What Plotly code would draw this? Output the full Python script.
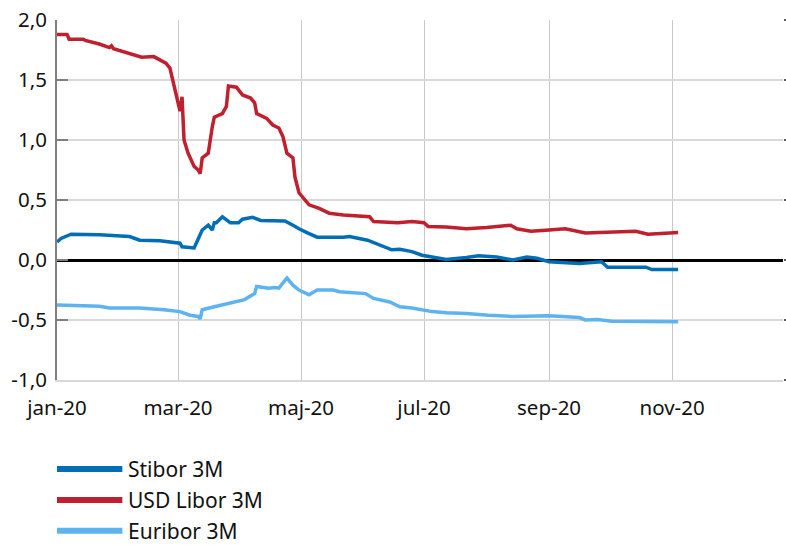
import plotly.graph_objects as go

# ---- data ----
series_names = ["Stibor 3M", "USD Libor 3M", "Euribor 3M"]

libor_dates = ["2020-01-01", "2020-01-06", "2020-01-07", "2020-01-14", "2020-01-15", "2020-01-22",
               "2020-01-27", "2020-01-28", "2020-01-29", "2020-02-01", "2020-02-07", "2020-02-12",
               "2020-02-18", "2020-02-24", "2020-02-26", "2020-02-28", "2020-03-02", "2020-03-03",
               "2020-03-04", "2020-03-06", "2020-03-09", "2020-03-11", "2020-03-12", "2020-03-13",
               "2020-03-16", "2020-03-18", "2020-03-19", "2020-03-23", "2020-03-25", "2020-03-26",
               "2020-03-30", "2020-04-02", "2020-04-06", "2020-04-08", "2020-04-09", "2020-04-14",
               "2020-04-17", "2020-04-20", "2020-04-22", "2020-04-24", "2020-04-27", "2020-04-28",
               "2020-04-30", "2020-05-05", "2020-05-10", "2020-05-15", "2020-05-22", "2020-06-04",
               "2020-06-06", "2020-06-18", "2020-06-25", "2020-07-01", "2020-07-03", "2020-07-12",
               "2020-07-22", "2020-08-01", "2020-08-13", "2020-08-16", "2020-08-23", "2020-09-01",
               "2020-09-09", "2020-09-19", "2020-10-02", "2020-10-14", "2020-10-20", "2020-10-28",
               "2020-11-04"]
libor_values = [1.88, 1.88, 1.84, 1.84, 1.83, 1.80,
                1.77, 1.785, 1.76, 1.745, 1.72, 1.69,
                1.695, 1.64, 1.60, 1.46, 1.24, 1.36,
                1.00, 0.89, 0.78, 0.75, 0.72, 0.85,
                0.89, 1.11, 1.19, 1.22, 1.28, 1.45,
                1.44, 1.375, 1.35, 1.31, 1.22, 1.18,
                1.125, 1.10, 1.03, 0.89, 0.85, 0.69,
                0.56, 0.46, 0.43, 0.39, 0.375, 0.36,
                0.32, 0.31, 0.32, 0.31, 0.28, 0.275,
                0.26, 0.27, 0.29, 0.26, 0.24, 0.25,
                0.26, 0.225, 0.23, 0.24, 0.215, 0.22,
                0.23]

stibor_dates = ["2020-01-01", "2020-01-03", "2020-01-08", "2020-01-22", "2020-02-06", "2020-02-11",
                "2020-02-21", "2020-03-02", "2020-03-03", "2020-03-09", "2020-03-13", "2020-03-16",
                "2020-03-18", "2020-03-19", "2020-03-20", "2020-03-23", "2020-03-27", "2020-03-31",
                "2020-04-02", "2020-04-07", "2020-04-11", "2020-04-19", "2020-04-23", "2020-04-27",
                "2020-04-30", "2020-05-05", "2020-05-09", "2020-05-22", "2020-05-25", "2020-06-03",
                "2020-06-09", "2020-06-15", "2020-06-19", "2020-06-25", "2020-06-30", "2020-07-12",
                "2020-07-22", "2020-07-28", "2020-08-06", "2020-08-14", "2020-08-21", "2020-08-26",
                "2020-09-01", "2020-09-16", "2020-09-27", "2020-09-30", "2020-10-19", "2020-10-22",
                "2020-11-04"]
stibor_values = [0.15, 0.18, 0.215, 0.21, 0.195, 0.165,
                 0.16, 0.14, 0.11, 0.10, 0.25, 0.29,
                 0.25, 0.31, 0.31, 0.36, 0.31, 0.31,
                 0.34, 0.355, 0.33, 0.33, 0.325, 0.29,
                 0.26, 0.22, 0.19, 0.19, 0.195, 0.165,
                 0.125, 0.085, 0.09, 0.07, 0.04, 0.005,
                 0.02, 0.035, 0.025, 0.0, 0.025, 0.015,
                 -0.015, -0.03, -0.015, -0.06, -0.06, -0.08,
                 -0.08]

euribor_dates = ["2020-01-01", "2020-01-22", "2020-01-27", "2020-02-11", "2020-02-23", "2020-03-02",
                 "2020-03-07", "2020-03-11", "2020-03-12", "2020-03-13", "2020-03-19", "2020-03-28",
                 "2020-04-03", "2020-04-08", "2020-04-09", "2020-04-15", "2020-04-18", "2020-04-20",
                 "2020-04-24", "2020-04-27", "2020-04-30", "2020-05-05", "2020-05-09", "2020-05-17",
                 "2020-05-20", "2020-06-02", "2020-06-06", "2020-06-14", "2020-06-19", "2020-06-25",
                 "2020-07-05", "2020-07-12", "2020-07-22", "2020-08-02", "2020-08-14", "2020-09-01",
                 "2020-09-16", "2020-09-19", "2020-09-25", "2020-10-02", "2020-11-04"]
euribor_values = [-0.375, -0.385, -0.40, -0.40, -0.415, -0.43,
                  -0.46, -0.47, -0.49, -0.415, -0.39, -0.35,
                  -0.33, -0.28, -0.22, -0.235, -0.23, -0.235,
                  -0.15, -0.21, -0.25, -0.29, -0.25, -0.25,
                  -0.265, -0.28, -0.32, -0.35, -0.39, -0.40,
                  -0.43, -0.44, -0.445, -0.46, -0.47, -0.465,
                  -0.48, -0.50, -0.495, -0.51, -0.515]

x_tick_vals = ["2020-01-01", "2020-03-01", "2020-05-01", "2020-07-01", "2020-09-01", "2020-11-01"]
x_tick_text = ["jan-20", "mar-20", "maj-20", "jul-20", "sep-20", "nov-20"]
y_tick_vals = [-1.0, -0.5, 0.0, 0.5, 1.0, 1.5, 2.0]
y_tick_text = ["-1,0", "-0,5", "0,0", "0,5", "1,0", "1,5", "2,0"]

colors = ["#006eb6", "#c0202e", "#5db3ef"]

FONT = "Noto Sans"
TXT = "#111111"

fig = go.Figure()
data = [(stibor_dates, stibor_values), (libor_dates, libor_values), (euribor_dates, euribor_values)]
# draw order: Euribor, Libor, Stibor on top
for idx in [2, 1, 0]:
    d, v = data[idx]
    fig.add_trace(go.Scatter(x=d, y=v, mode="lines", name=series_names[idx],
                             line=dict(color=colors[idx], width=3.5), showlegend=False))

# invisible trace on right axis for the small right-hand ticks
fig.add_trace(go.Scatter(x=[x_tick_vals[0]], y=[0], yaxis="y2", mode="markers",
                         marker=dict(opacity=0), showlegend=False, hoverinfo="skip"))

fig.update_layout(
    width=786, height=545,
    margin=dict(l=57, r=3, t=20, b=165, autoexpand=False),
    paper_bgcolor="white", plot_bgcolor="white",
    font=dict(family=FONT, size=20, color=TXT),
    showlegend=False,
    xaxis=dict(
        range=["2020-01-01", "2020-12-26"],
        tickvals=x_tick_vals, ticktext=x_tick_text,
        showgrid=True, gridcolor="#c8c8c8", gridwidth=1,
        showline=True, linecolor="#d9d9d9", linewidth=2,
        ticks="", zeroline=False, automargin=False,
        tickfont=dict(family=FONT, size=20.5, color=TXT),
        ticklabelstandoff=8,
    ),
    yaxis=dict(
        range=[-1, 2],
        tickvals=y_tick_vals, ticktext=y_tick_text,
        showgrid=True, gridcolor="#d9d9d9", gridwidth=2,
        showline=True, linecolor="#7f7f7f", linewidth=2,
        ticks="inside", ticklen=11, tickcolor="#7f7f7f", tickwidth=2,
        zeroline=True, zerolinecolor="black", zerolinewidth=3,
        automargin=False,
        tickfont=dict(family=FONT, size=20.5, color=TXT),
        ticklabelstandoff=4,
    ),
    yaxis2=dict(
        range=[-1, 2], overlaying="y", side="right",
        tickvals=y_tick_vals, showticklabels=False,
        ticks="outside", ticklen=3, tickcolor="#595959", tickwidth=2,
        showgrid=False, zeroline=False, showline=False, automargin=False,
    ),
)

# legend drawn below the plot
legend_rows = [-0.247, -0.333, -0.419]
for i, name in enumerate(series_names):
    fig.add_shape(type="line", xref="paper", yref="paper",
                  x0=0.0, x1=0.09, y0=legend_rows[i], y1=legend_rows[i],
                  line=dict(color=colors[i], width=6))
    fig.add_annotation(xref="paper", yref="paper", x=0.095, y=legend_rows[i],
                       text=name, showarrow=False, xanchor="left", yanchor="middle",
                       font=dict(family=FONT, size=21, color=TXT))

fig.write_html("out.html", config={"displayModeBar": False},
               post_script="document.body.style.margin='0';document.body.style.padding='0';")
